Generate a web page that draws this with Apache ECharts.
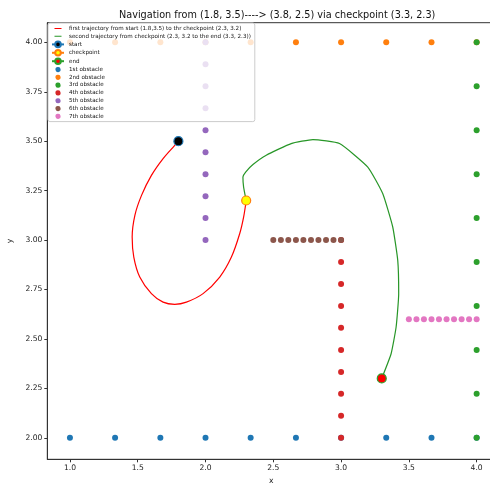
<!DOCTYPE html>
<html>
<head>
<meta charset="utf-8">
<script src="https://cdn.jsdelivr.net/npm/echarts@6/dist/echarts.min.js"></script>
<style>html,body{margin:0;padding:0;background:#fff;}#c{width:490px;height:485px;}</style>
</head>
<body>
<div id="c"></div>
<script>
// ---- data ----
const titleText = 'Navigation from (1.8, 3.5)----> (3.8, 2.5) via checkpoint (3.3, 2.3)';
const xTicks = [1.0, 1.5, 2.0, 2.5, 3.0, 3.5, 4.0];
const yTicks = [2.0, 2.25, 2.5, 2.75, 3.0, 3.25, 3.5, 3.75, 4.0];

const traj1X = [1.80, 1.773, 1.687, 1.601, 1.528, 1.479, 1.459, 1.471, 1.515, 1.601, 1.687, 1.773, 1.859, 1.982, 2.105, 2.191, 2.252, 2.281, 2.30];
const traj1Y = [3.50, 3.479, 3.412, 3.327, 3.226, 3.125, 3.015, 2.914, 2.813, 2.729, 2.686, 2.675, 2.686, 2.729, 2.813, 2.914, 3.032, 3.116, 3.20];
const traj2X = [2.30, 2.281, 2.276, 2.296, 2.350, 2.448, 2.632, 2.792, 2.988, 3.197, 3.307, 3.381, 3.418, 3.425, 3.406, 3.369, 3.30];
const traj2Y = [3.20, 3.268, 3.319, 3.344, 3.382, 3.429, 3.488, 3.508, 3.488, 3.369, 3.235, 3.066, 2.897, 2.729, 2.560, 2.425, 2.30];

const startPt = [1.8, 3.5];
const checkPt = [2.3, 3.2];
const endPt = [3.3, 2.3];

const obs1X = [1.0, 1.333, 1.667, 2.0, 2.333, 2.667, 3.0, 3.333, 3.667, 4.0];
const obs1Y = [2.0, 2.0, 2.0, 2.0, 2.0, 2.0, 2.0, 2.0, 2.0, 2.0];
const obs2X = [1.0, 1.333, 1.667, 2.0, 2.333, 2.667, 3.0, 3.333, 3.667, 4.0];
const obs2Y = [4.0, 4.0, 4.0, 4.0, 4.0, 4.0, 4.0, 4.0, 4.0, 4.0];
const obs3X = [4.0, 4.0, 4.0, 4.0, 4.0, 4.0, 4.0, 4.0, 4.0, 4.0];
const obs3Y = [2.0, 2.222, 2.444, 2.667, 2.889, 3.111, 3.333, 3.556, 3.778, 4.0];
const obs4X = [3.0, 3.0, 3.0, 3.0, 3.0, 3.0, 3.0, 3.0, 3.0, 3.0];
const obs4Y = [2.0, 2.111, 2.222, 2.333, 2.444, 2.556, 2.667, 2.778, 2.889, 3.0];
const obs5X = [2.0, 2.0, 2.0, 2.0, 2.0, 2.0, 2.0, 2.0, 2.0, 2.0];
const obs5Y = [3.0, 3.111, 3.222, 3.333, 3.444, 3.556, 3.667, 3.778, 3.889, 4.0];
const obs6X = [2.5, 2.556, 2.611, 2.667, 2.722, 2.778, 2.833, 2.889, 2.944, 3.0];
const obs6Y = [3.0, 3.0, 3.0, 3.0, 3.0, 3.0, 3.0, 3.0, 3.0, 3.0];
const obs7X = [3.5, 3.556, 3.611, 3.667, 3.722, 3.778, 3.833, 3.889, 3.944, 4.0];
const obs7Y = [2.6, 2.6, 2.6, 2.6, 2.6, 2.6, 2.6, 2.6, 2.6, 2.6];

const obstacleNames = ['1st obstacle', '2nd obstacle', '3rd obstacle', '4th obstacle', '5th obstacle', '6th obstacle', '7th obstacle'];
const traj1Name = 'first trajectory from start (1.8,3.5) to thr checkpoint (2.3, 3.2)';
const traj2Name = 'second trajectory from checkpoint (2.3, 3.2 to the end (3.3, 2.3))';

// ---- build ----
const zip = (xs, ys) => xs.map((x, i) => [x, ys[i]]);
const obstacles = [[obs1X, obs1Y], [obs2X, obs2Y], [obs3X, obs3Y], [obs4X, obs4Y], [obs5X, obs5Y], [obs6X, obs6Y], [obs7X, obs7Y]];
const obsColors = ['#1f77b4', '#ff7f0e', '#2ca02c', '#d62728', '#9467bd', '#8c564b', '#e377c2'];
const FONT = 'DejaVu Sans';
const lineIcon = 'path://M0,0L0.01,0Z M0,6.1L14,6.1L14,7.9L0,7.9Z M0,14L0.01,14Z';
const dotIcon = 'path://M0,0L0.01,0Z M7,7L6.99,7Z M6.1,3.5A2.6,2.6,0,1,1,6.099,3.49Z';

const series = [
  { name: traj1Name, type: 'line', data: zip(traj1X, traj1Y), showSymbol: false, symbol: 'none', smooth: 0.35,
    lineStyle: { color: '#ff0000', width: 1.2 }, itemStyle: { color: '#ff0000' }, z: 2 },
  { name: traj2Name, type: 'line', data: zip(traj2X, traj2Y), showSymbol: false, symbol: 'none', smooth: 0.15,
    lineStyle: { color: '#279627', width: 1.2 }, itemStyle: { color: '#279627' }, z: 2 },
  { name: 'start', type: 'line', data: [startPt], symbol: 'circle', symbolSize: 9,
    itemStyle: { color: '#000', borderColor: '#1f77b4', borderWidth: 1.2 }, lineStyle: { color: '#1f77b4', width: 1.5 }, z: 4 },
  { name: 'checkpoint', type: 'line', data: [checkPt], symbol: 'circle', symbolSize: 9,
    itemStyle: { color: '#ffff00', borderColor: '#ff7f0e', borderWidth: 1.2 }, lineStyle: { color: '#ff7f0e', width: 1.5 }, z: 4 },
  { name: 'end', type: 'line', data: [endPt], symbol: 'circle', symbolSize: 9,
    itemStyle: { color: '#ff0000', borderColor: '#2ca02c', borderWidth: 1.2 }, lineStyle: { color: '#2ca02c', width: 1.5 }, z: 4 }
];
obstacles.forEach((o, i) => {
  series.push({ name: obstacleNames[i], type: 'scatter', data: zip(o[0], o[1]), symbol: 'circle', symbolSize: 6,
    itemStyle: { color: obsColors[i], opacity: 1 }, z: 3, silent: true });
});

const legendData = [
  { name: traj1Name, icon: lineIcon, itemStyle: { color: '#ff0000' } },
  { name: traj2Name, icon: lineIcon, itemStyle: { color: '#279627' } },
  { name: 'start' }, { name: 'checkpoint' }, { name: 'end' }
].concat(obstacleNames.map(n => ({ name: n, icon: dotIcon })));

const chart = echarts.init(document.getElementById('c'), null, { renderer: 'canvas' });
chart.setOption({
  animation: false,
  backgroundColor: '#fff',
  title: { text: titleText, left: 114, top: 5, textStyle: { fontFamily: FONT, fontSize: 9.7, fontWeight: 'normal', color: '#111' } },
  grid: { left: 47.3, top: 22.7, width: 448, height: 436.6, show: true, borderColor: '#333', borderWidth: 1,
    backgroundColor: 'transparent', containLabel: false, outerBoundsMode: 'none' },
  legend: {
    orient: 'vertical', left: 48, top: 23, itemWidth: 12, itemHeight: 7, itemGap: 0.8,
    padding: [2, 4, 2, 3], backgroundColor: 'rgba(255,255,255,0.8)', borderColor: '#ccc', borderWidth: 1, borderRadius: 2,
    textStyle: { fontFamily: FONT, fontSize: 5.6, color: '#111' }, data: legendData, z: 10
  },
  xAxis: {
    type: 'value', min: 0.833, max: 0.833 + 448 / 135.57,
    name: 'x', nameLocation: 'middle', nameGap: 17, nameTextStyle: { fontFamily: FONT, fontSize: 7.6, color: '#222' },
    axisLine: { show: true, onZero: false, lineStyle: { color: '#333', width: 1 } },
    axisTick: { show: true, length: 3, customValues: xTicks, lineStyle: { color: '#333' } },
    axisLabel: { customValues: xTicks, margin: 5, fontFamily: FONT, fontSize: 7.6, color: '#222', formatter: v => v.toFixed(1) },
    splitLine: { show: false }
  },
  yAxis: {
    type: 'value', min: 1.891, max: 1.891 + 436.6 / 197.7,
    name: 'y', nameLocation: 'middle', nameGap: 31, nameRotate: 90, nameTextStyle: { fontFamily: FONT, fontSize: 7.6, color: '#222' },
    axisLine: { show: true, onZero: false, lineStyle: { color: '#333', width: 1 } },
    axisTick: { show: true, length: 3, customValues: yTicks, lineStyle: { color: '#333' } },
    axisLabel: { customValues: yTicks, margin: 5, fontFamily: FONT, fontSize: 7.6, color: '#222', formatter: v => v.toFixed(2) },
    splitLine: { show: false }
  },
  series: series
});
</script>
</body>
</html>
